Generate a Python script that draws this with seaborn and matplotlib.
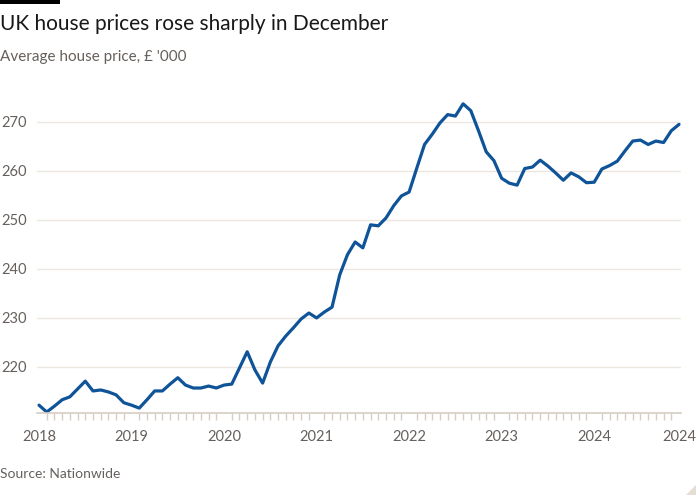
import matplotlib
matplotlib.use("Agg")
import matplotlib.pyplot as plt
import seaborn as sns
import pandas as pd
import numpy as np
from matplotlib.patches import Rectangle, Polygon

# ---- data (average house price, £'000, monthly Jan 2018 - Dec 2024) ----
months = pd.date_range("2018-01-01", periods=84, freq="MS").strftime("%Y-%m").tolist()
prices = [
    212.2, 210.8, 212.0, 213.3, 213.9, 215.5, 217.1, 215.1, 215.3, 214.9, 214.3, 212.7,
    212.2, 211.6, 213.3, 215.1, 215.1, 216.5, 217.8, 216.3, 215.7, 215.7, 216.1, 215.7,
    216.3, 216.5, 219.8, 223.1, 219.4, 216.7, 221.0, 224.3, 226.3, 228.0, 229.8, 231.0,
    230.0, 231.2, 232.2, 238.8, 242.9, 245.5, 244.3, 249.0, 248.8, 250.4, 252.9, 254.9,
    255.7, 260.6, 265.4, 267.5, 269.8, 271.5, 271.2, 273.7, 272.3, 268.2, 263.9, 262.1,
    258.5, 257.5, 257.1, 260.5, 260.8, 262.2, 261.0, 259.6, 258.1, 259.6, 258.8, 257.6,
    257.7, 260.4, 261.1, 262.0, 264.1, 266.1, 266.3, 265.4, 266.1, 265.8, 268.2, 269.5,
]
y_ticks = [220, 230, 240, 250, 260, 270]
x_tick_labels = ["2018", "2019", "2020", "2021", "2022", "2023", "2024", "2024"]
x_tick_months = ["2018-01", "2019-01", "2020-01", "2021-01", "2022-01", "2023-01", "2024-01", "2024-12"]

title = "UK house prices rose sharply in December"
subtitle = "Average house price, £ '000"
source = "Source: Nationwide"

df = pd.DataFrame({"month": months, "price": prices})
df["idx"] = np.arange(len(df))

# ---- style ----
sns.set_theme(style="white")
plt.rcParams["font.family"] = ["Lato", "DejaVu Sans"]

BLUE = "#0f5499"
GRID = "#ebe6e0"
AXIS = "#d6cdc4"
TXT = "#66605c"

fig = plt.figure(figsize=(7, 5), dpi=100)
fig.patch.set_facecolor("white")
ax = fig.add_axes([37 / 700, 1 - 413 / 500, (681 - 37) / 700, (413 - 95) / 500])
ax.set_facecolor("white")

sns.lineplot(data=df, x="idx", y="price", ax=ax, color=BLUE, linewidth=2.3,
             solid_joinstyle="round", solid_capstyle="round")

ax.set_xlim(-0.26, 83.26)
ax.set_ylim(210.6, 275.5)

ax.set_yticks(y_ticks)
ax.set_yticklabels([str(v) for v in y_ticks])
ax.yaxis.grid(True, color=GRID, linewidth=1)
ax.tick_params(axis="y", length=0, pad=7, labelsize=10.5, labelcolor=TXT)

pos_map = {m: i for i, m in enumerate(months)}
major = [pos_map[m] for m in x_tick_months]
ax.set_xticks(major)
ax.set_xticklabels(x_tick_labels)
ax.set_xticks([i for i in range(len(months)) if i not in major], minor=True)
ax.tick_params(axis="x", which="major", length=8.5, width=1, color=AXIS,
               labelsize=10.5, labelcolor=TXT, pad=4, direction="out")
ax.tick_params(axis="x", which="minor", length=5, width=1, color=AXIS, direction="out",
               bottom=True)
ax.set_xlabel("")
ax.set_ylabel("")

for s in ["top", "right", "left"]:
    ax.spines[s].set_visible(False)
ax.spines["bottom"].set_color(AXIS)
ax.spines["bottom"].set_linewidth(1.2)

# ---- text ----
fig.text(0 / 700, 1 - 24 / 500, title, fontsize=15, color="#1a1817", va="center", ha="left")
fig.text(0 / 700, 1 - 57 / 500, subtitle, fontsize=11, color=TXT, va="center", ha="left")
fig.text(0 / 700, 1 - 474 / 500, source, fontsize=10, color=TXT, va="center", ha="left")

# FT-style top-left bar and corner mark
fig.add_artist(Rectangle((0, 1 - 4 / 500), 60 / 700, 4 / 500, transform=fig.transFigure,
                         color="black", lw=0))
fig.add_artist(Polygon([(686 / 700, 1 - 495 / 500), (696 / 700, 1 - 495 / 500),
                        (696 / 700, 1 - 485 / 500)], closed=True,
                       transform=fig.transFigure, color="#e6ddd5", lw=0))

fig.savefig("out.png", dpi=100, facecolor="white")
